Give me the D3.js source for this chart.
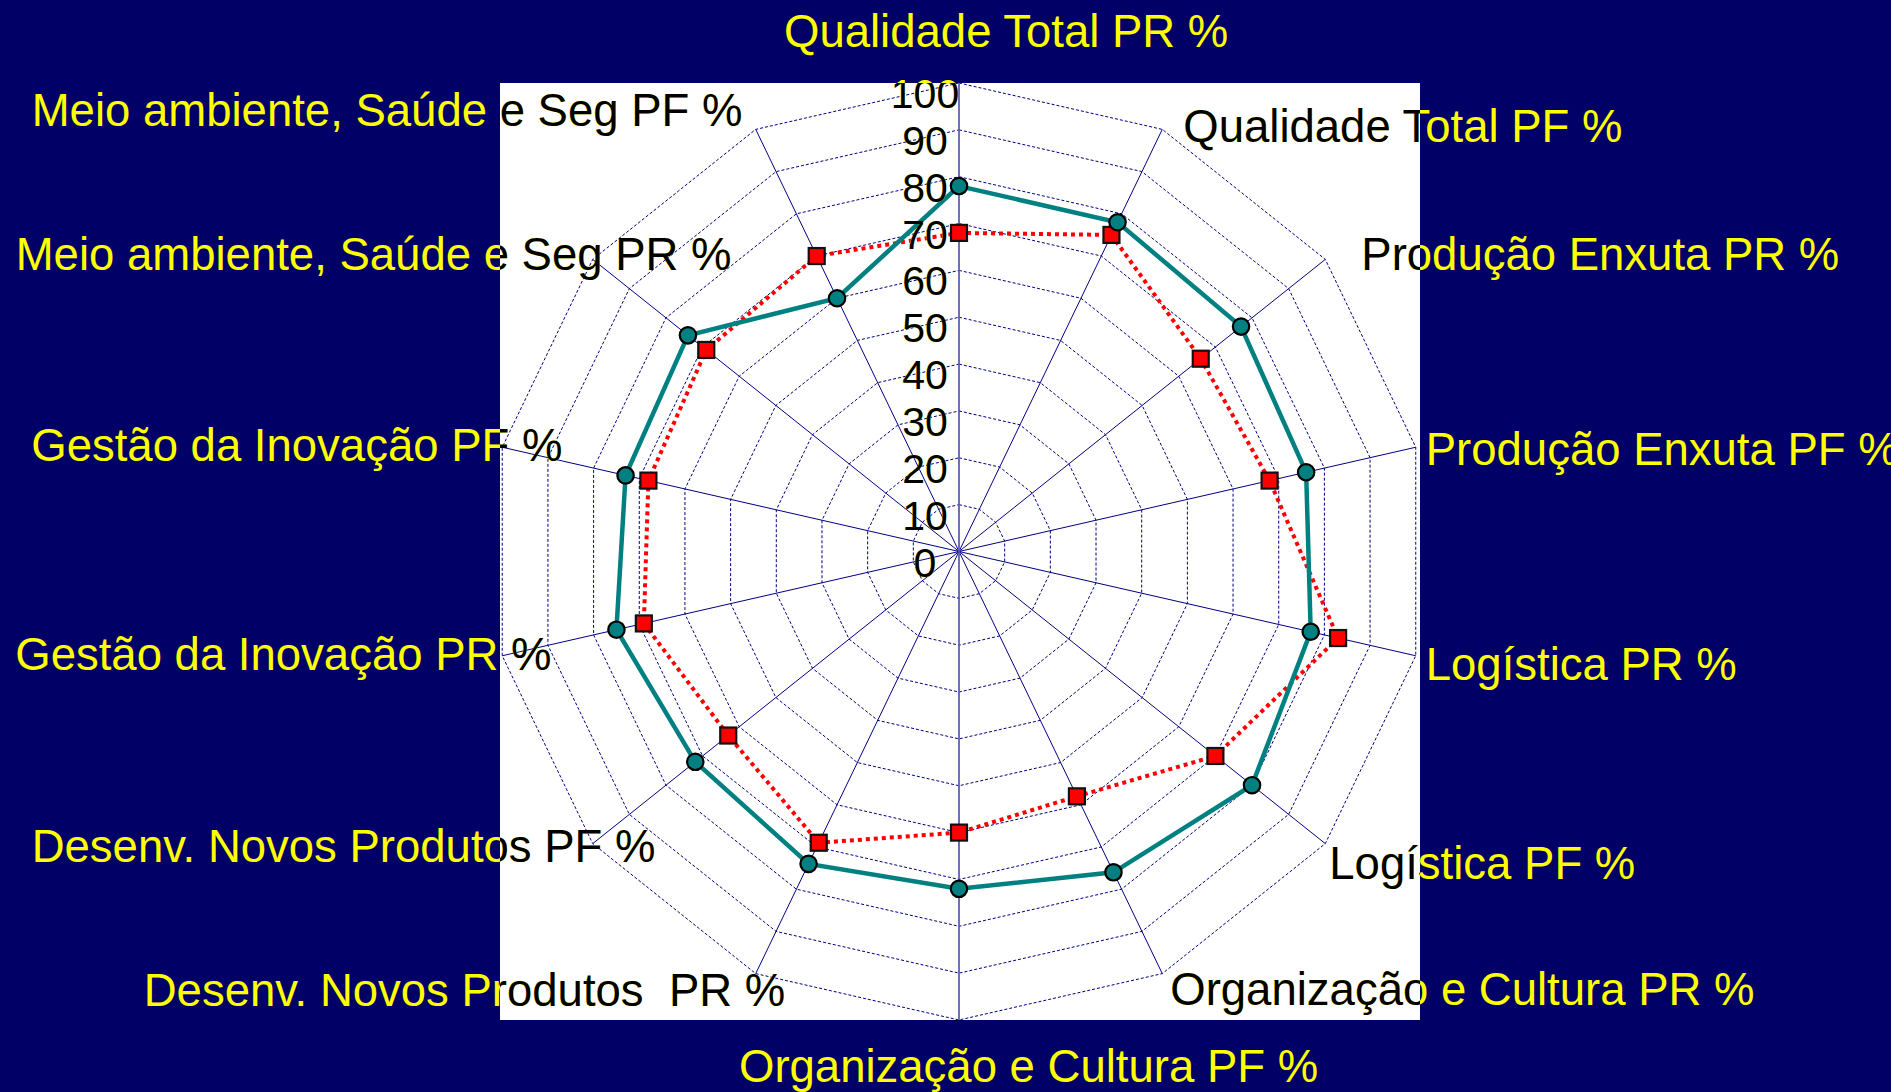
<!DOCTYPE html>
<html>
<head>
<meta charset="utf-8">
<script src="https://cdn.jsdelivr.net/npm/d3@7"></script>
<style>
  html, body { margin: 0; padding: 0; background: #000066; overflow: hidden; }
  svg { display: block; }
  text { font-family: "Liberation Sans", Arial, sans-serif; white-space: pre; }
</style>
</head>
<body>
<svg id="chart" width="1891" height="1092"></svg>
<script>
// ---------- data ----------
const categories = [
  "Qualidade Total PR %",
  "Qualidade Total PF %",
  "Produção Enxuta PR %",
  "Produção Enxuta PF %",
  "Logística PR %",
  "Logística PF %",
  "Organização e Cultura PR %",
  "Organização e Cultura PF %",
  "Desenv. Novos Produtos  PR %",
  "Desenv. Novos Produtos PF %",
  "Gestão da Inovação PR %",
  "Gestão da Inovação PF %",
  "Meio ambiente, Saúde e Seg PR %",
  "Meio ambiente, Saúde e Seg PF %"
];
const seriesA = [78, 78, 77, 76, 77, 80, 76, 72, 74, 72, 75, 73, 74, 60]; // teal, solid
const seriesB = [68, 75, 66, 68, 83, 70, 58, 60, 69, 63, 69, 68, 69, 70]; // red, dotted
const tickValues = [0, 10, 20, 30, 40, 50, 60, 70, 80, 90, 100];

// ---------- layout (label offsets from each spoke end: left x, baseline) ----------
const labelOffsets = [
  [-175, -36], [21, 13], [36, 11], [10, 18], [10, 24], [4, 35], [8, 31],
  [-220, 62], [-612, 32], [-561, 18], [-487, 14], [-471, 14], [-577, 11], [-724, -3]
];

const W = 1891, H = 1092;
const plot = { x: 500, y: 83, w: 920, h: 937 };
const cx = 959, cy = 551.5, R = 468.5;
const n = categories.length;

const svg = d3.select("#chart");
const defs = svg.append("defs");
defs.append("clipPath").attr("id", "whiteClip")
  .append("rect").attr("x", plot.x).attr("y", plot.y).attr("width", plot.w).attr("height", plot.h);

svg.append("rect").attr("width", W).attr("height", H).attr("fill", "#000066");
svg.append("rect").attr("x", plot.x).attr("y", plot.y).attr("width", plot.w).attr("height", plot.h).attr("fill", "#ffffff");

const r = d3.scaleLinear().domain([0, 100]).range([0, R]);
const ang = d3.scaleLinear().domain([0, n]).range([0, 2 * Math.PI]);
const px = (i, v) => cx + r(v) * Math.sin(ang(i));
const py = (i, v) => cy - r(v) * Math.cos(ang(i));

const g = svg.append("g").attr("transform", `translate(${cx},${cy})`);

// rings
const ringLine = d3.lineRadial().curve(d3.curveLinearClosed);
g.selectAll("path.ring").data(tickValues.filter(t => t > 0)).join("path")
  .attr("class", "ring")
  .attr("d", t => ringLine(d3.range(n).map(i => [ang(i), r(t)])))
  .attr("fill", "none").attr("stroke", "#000080").attr("stroke-width", 1)
  .attr("stroke-dasharray", "3,2");

// spokes
g.selectAll("line.spoke").data(d3.range(n)).join("line")
  .attr("class", "spoke")
  .attr("x1", 0).attr("y1", 0)
  .attr("x2", i => r(100) * Math.sin(ang(i)))
  .attr("y2", i => -r(100) * Math.cos(ang(i)))
  .attr("stroke", "#000080").attr("stroke-width", 1);

// value axis (vertical) full line
g.append("line")
  .attr("x1", 0).attr("x2", 0).attr("y1", -r(100)).attr("y2", r(100))
  .attr("stroke", "#6b6bb5").attr("stroke-width", 1.5);

// text helper: yellow everywhere, black where over the white plot area
function dualText(sel, build) {
  const yellow = sel.append("g").attr("fill", "#ffff00");
  build(yellow);
  const black = sel.append("g").attr("fill", "#000000").attr("clip-path", "url(#whiteClip)");
  build(black);
}

// tick labels
dualText(svg.append("g"), grp => {
  grp.selectAll("text").data(tickValues).join("text")
    .attr("x", cx - 34)
    .attr("y", t => cy - r(t) + 25)
    .attr("text-anchor", "middle")
    .attr("font-size", 41)
    .text(t => t);
});

// series
const seriesLine = d3.lineRadial()
  .angle((d, i) => ang(i))
  .radius(d => r(d))
  .curve(d3.curveLinearClosed);

g.append("path").attr("d", seriesLine(seriesB))
  .attr("fill", "none").attr("stroke", "#ff0000").attr("stroke-width", 4)
  .attr("stroke-dasharray", "4,4");
g.append("path").attr("d", seriesLine(seriesA))
  .attr("fill", "none").attr("stroke", "#008080").attr("stroke-width", 4.5);

const S = 16;
svg.append("g").selectAll("rect").data(seriesB).join("rect")
  .attr("x", (d, i) => px(i, d) - S / 2)
  .attr("y", (d, i) => py(i, d) - S / 2)
  .attr("width", S).attr("height", S)
  .attr("fill", "#ff0000").attr("stroke", "#111").attr("stroke-width", 2.2);

svg.append("g").selectAll("circle").data(seriesA).join("circle")
  .attr("cx", (d, i) => px(i, d))
  .attr("cy", (d, i) => py(i, d))
  .attr("r", 8.2)
  .attr("fill", "#008080").attr("stroke", "#000").attr("stroke-width", 2.2);

// category labels
dualText(svg.append("g"), grp => {
  grp.selectAll("text").data(categories).join("text")
    .attr("x", (d, i) => px(i, 100) + labelOffsets[i][0])
    .attr("y", (d, i) => py(i, 100) + labelOffsets[i][1])
    .attr("text-anchor", "start")
    .attr("font-size", 45.5)
    .text(d => d);
});
</script>
</body>
</html>
